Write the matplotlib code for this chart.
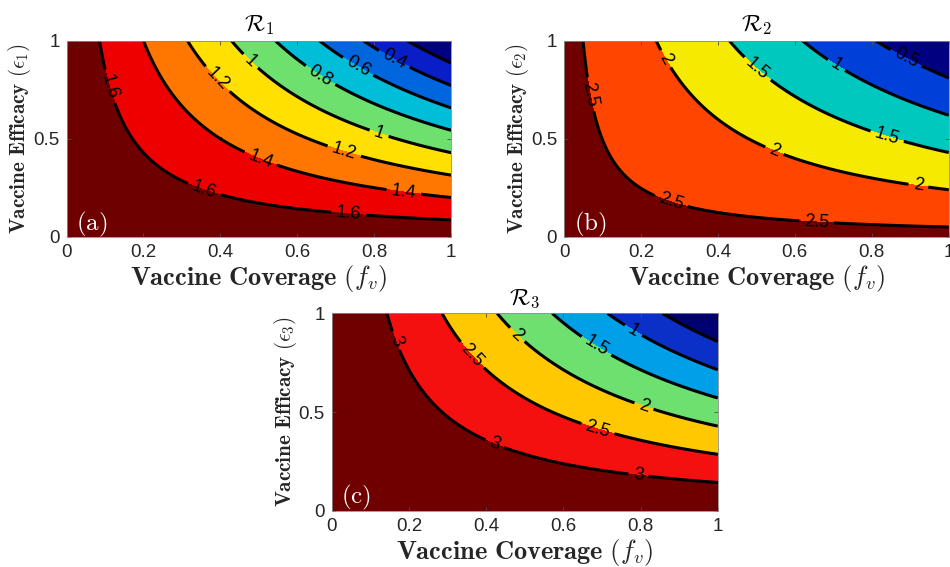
import numpy as np
import matplotlib
matplotlib.use('Agg')
import matplotlib.pyplot as plt

plt.rcParams['mathtext.fontset'] = 'cm'
plt.rcParams['font.family'] = ['Liberation Sans', 'DejaVu Sans']

# ---------------- data ----------------
coverage_ticks = [0, 0.2, 0.4, 0.6, 0.8, 1]
efficacy_ticks = [0, 0.5, 1]
coverage_ticklabels = ['0', '0.2', '0.4', '0.6', '0.8', '1']
efficacy_ticklabels = ['0', '0.5', '1']

# reproduction number with no vaccination, read from the contour crossings
R0_values = [1.75, 2.63, 3.5]

levels_a = [0.2, 0.4, 0.6, 0.8, 1.0, 1.2, 1.4, 1.6]
levels_b = [0.5, 1.0, 1.5, 2.0, 2.5]
levels_c = [0.5, 1.0, 1.5, 2.0, 2.5, 3.0]
labelled_a = [0.4, 0.6, 0.8, 1.0, 1.2, 1.4, 1.6]
labelled_b = [0.5, 1.0, 1.5, 2.0, 2.5]
labelled_c = [1.0, 1.5, 2.0, 2.5, 3.0]

colors_a = ['#000080', '#0A1EC8', '#0066DD', '#00BED8', '#6EE06E',
            '#FFE000', '#FF7700', '#EE0000', '#6E0000']
colors_b = ['#000080', '#0040D8', '#00C8BE', '#F5EA00', '#FF4500', '#700000']
colors_c = ['#000070', '#0A30C8', '#00A0E8', '#6EE070', '#FFC800',
            '#F51010', '#700000']

titles = [r'$\mathcal{R}_1$', r'$\mathcal{R}_2$', r'$\mathcal{R}_3$']
ylabels = [r'$\mathbf{Vaccine\ Efficacy}\ (\epsilon_1)$',
           r'$\mathbf{Vaccine\ Efficacy}\ (\epsilon_2)$',
           r'$\mathbf{Vaccine\ Efficacy}\ (\epsilon_3)$']
xlabel = r'$\mathbf{Vaccine\ Coverage}\ (f_v)$'
panel_tags = [r'$\mathrm{(a)}$', r'$\mathrm{(b)}$', r'$\mathrm{(c)}$']

# ---------------- layout ----------------
label_pos_a = [(0.108, 0.765), (0.356, 0.23), (0.733, 0.10), (0.503, 0.39),
               (0.876, 0.22), (0.39, 0.80), (0.72, 0.425), (0.477, 0.893),
               (0.811, 0.519), (0.655, 0.808), (0.755, 0.859), (0.85, 0.90)]
label_pos_b = [(0.059, 0.723), (0.275, 0.162), (0.656, 0.06), (0.258, 0.90),
               (0.544, 0.425), (0.92, 0.247), (0.50, 0.85), (0.838, 0.50),
               (0.708, 0.876), (0.886, 0.90)]
label_pos_c = [(0.16, 0.856), (0.419, 0.324), (0.794, 0.172), (0.354, 0.772),
               (0.687, 0.40), (0.475, 0.88), (0.807, 0.519), (0.682, 0.823),
               (0.777, 0.899)]

fig = plt.figure(figsize=(9.5, 5.67), dpi=100)
rects = [[0.0700, 0.5825, 0.4050, 0.3457],
         [0.5937, 0.5825, 0.4050, 0.3457],
         [0.3492, 0.0993, 0.4063, 0.3480]]

f = np.linspace(0, 1, 501)
e = np.linspace(0, 1, 501)
F, E = np.meshgrid(f, e)

all_levels = [levels_a, levels_b, levels_c]
all_labelled = [labelled_a, labelled_b, labelled_c]
all_colors = [colors_a, colors_b, colors_c]
all_pos = [label_pos_a, label_pos_b, label_pos_c]

for i in range(3):
    ax = fig.add_axes(rects[i])
    Z = R0_values[i] * (1 - F * E)
    fill_levels = [-1.0] + all_levels[i] + [R0_values[i] + 1.0]
    ax.contourf(F, E, Z, levels=fill_levels, colors=all_colors[i])
    unlabelled = [lv for lv in all_levels[i] if lv not in all_labelled[i]]
    if unlabelled:
        ax.contour(F, E, Z, levels=unlabelled, colors='black', linewidths=2.2)
    cs = ax.contour(F, E, Z, levels=all_labelled[i], colors='black',
                    linewidths=2.2)
    ax.clabel(cs, inline=True, fmt='%g', fontsize=13,
              manual=all_pos[i], inline_spacing=5)
    ax.set_xlim(0, 1)
    ax.set_ylim(0, 1)
    ax.set_xticks(coverage_ticks)
    ax.set_xticklabels(coverage_ticklabels)
    ax.set_yticks(efficacy_ticks)
    ax.set_yticklabels(efficacy_ticklabels)
    ax.tick_params(direction='in', length=3, width=0.6, colors='0.3',
                   labelcolor='#262626', labelsize=13.5, top=True, right=True,
                   pad=5)
    for sp in ax.spines.values():
        sp.set_color('0.55')
        sp.set_linewidth(0.6)
    ax.set_title(titles[i], fontsize=17, pad=7)
    ax.set_xlabel(xlabel, fontsize=19, labelpad=2, color='#262626')
    ax.set_ylabel(ylabels[i], fontsize=15.2, labelpad=0, color='#262626')
    ax.text(0.025, 0.065, panel_tags[i], transform=ax.transAxes,
            color='white', fontsize=18, ha='left', va='center')

fig.savefig('out.png', dpi=100)
